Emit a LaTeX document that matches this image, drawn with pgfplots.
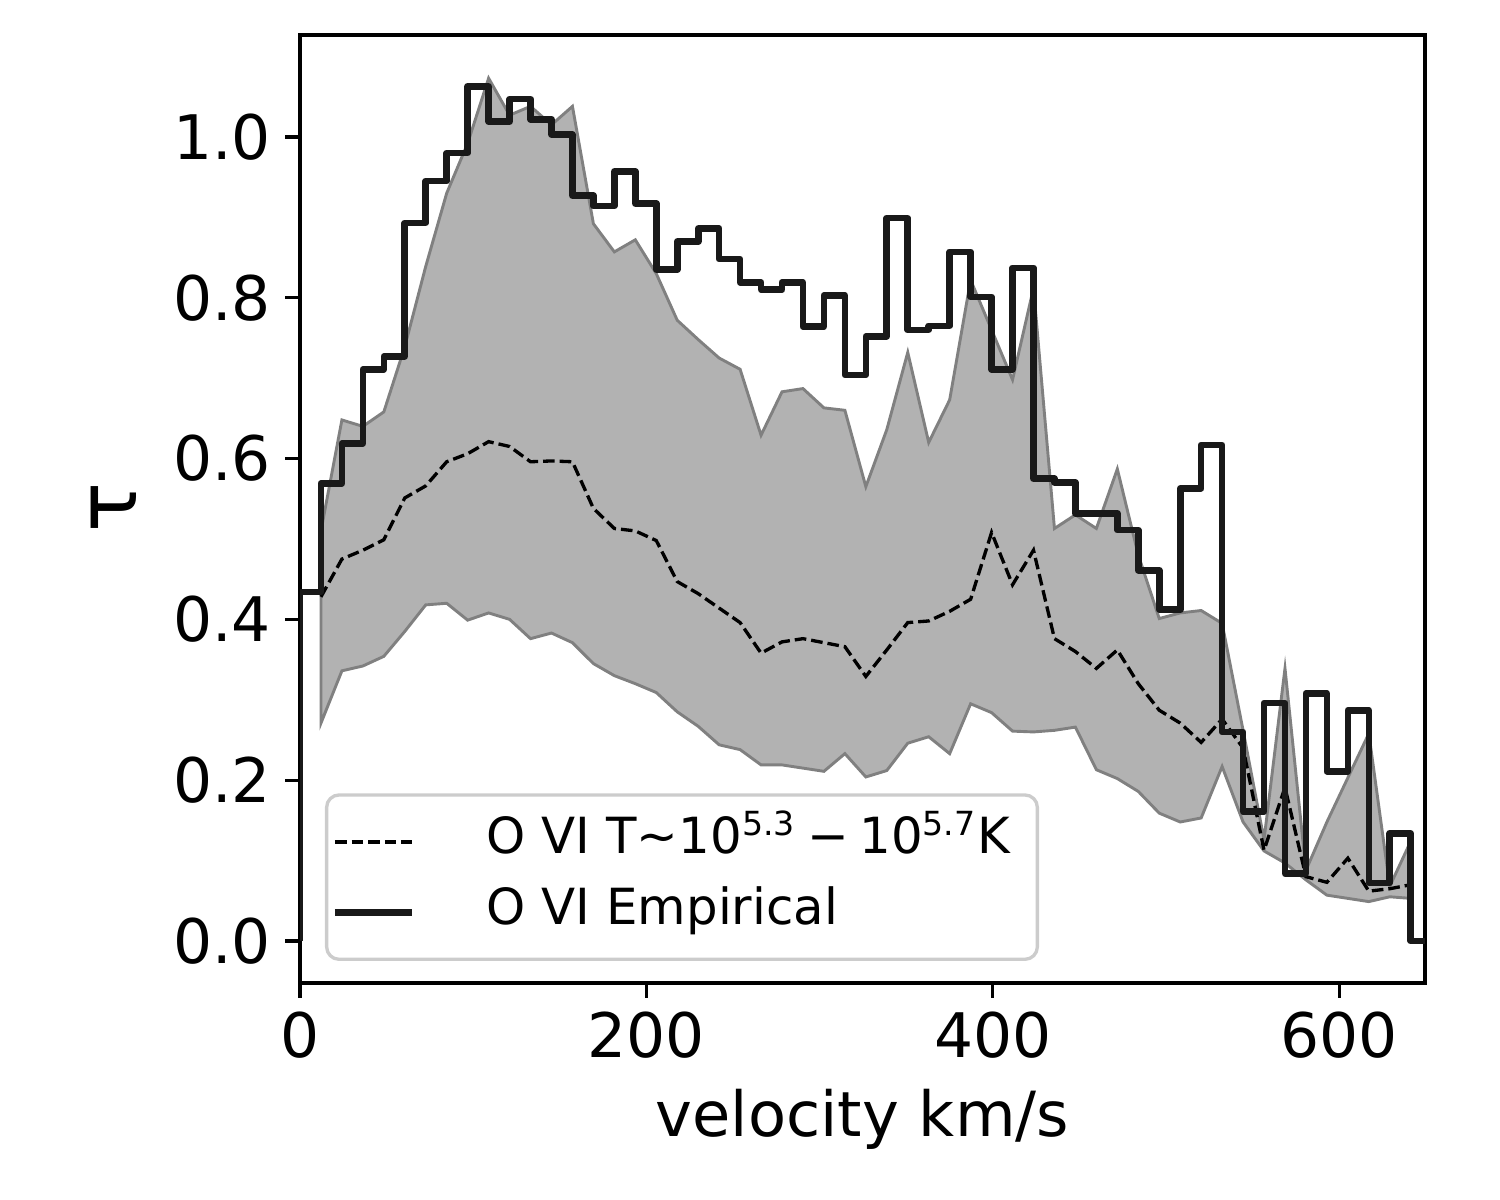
\documentclass[border=0pt]{standalone}
\usepackage{fontspec}
\setmainfont{DejaVu Sans}
\usepackage{pgfplots}
\usepackage{pgfplotstable}
\usepgfplotslibrary{fillbetween}
\pgfplotsset{compat=1.18}

\pgfplotstableread{
x y
0 0
0 0.434
12.1 0.569
24.2 0.619
36.3 0.711
48.4 0.727
60.5 0.893
72.6 0.945
84.7 0.980
96.8 1.063
108.9 1.019
121.0 1.047
133.1 1.022
145.2 1.003
157.3 0.927
169.4 0.914
181.5 0.957
193.6 0.917
205.7 0.835
217.8 0.870
229.9 0.886
242.0 0.848
254.1 0.819
266.2 0.810
278.3 0.819
290.4 0.764
302.5 0.803
314.6 0.704
326.7 0.752
338.8 0.899
350.9 0.760
363.0 0.765
375.1 0.857
387.2 0.801
399.3 0.711
411.4 0.837
423.5 0.575
435.6 0.570
447.7 0.532
459.8 0.532
471.9 0.511
484.0 0.461
496.1 0.412
508.2 0.563
520.3 0.617
532.4 0.260
544.5 0.161
556.6 0.296
568.7 0.084
580.8 0.308
592.9 0.211
605.0 0.287
617.1 0.072
629.2 0.134
641.3 0
649.5 0
}\steptable

\pgfplotstableread{
x up lo mid
12.1 0.510 0.271 0.428
24.2 0.648 0.336 0.475
36.3 0.640 0.342 0.486
48.4 0.658 0.354 0.499
60.5 0.739 0.385 0.551
72.6 0.839 0.418 0.566
84.7 0.930 0.420 0.596
96.8 0.992 0.399 0.606
108.9 1.073 0.408 0.621
121.0 1.027 0.400 0.615
133.1 1.038 0.376 0.596
145.2 1.015 0.383 0.597
157.3 1.038 0.371 0.596
169.4 0.892 0.345 0.538
181.5 0.857 0.330 0.513
193.6 0.872 0.320 0.510
205.7 0.830 0.309 0.498
217.8 0.772 0.285 0.447
229.9 0.748 0.267 0.432
242.0 0.725 0.244 0.414
254.1 0.711 0.238 0.396
266.2 0.629 0.219 0.358
278.3 0.683 0.219 0.372
290.4 0.687 0.215 0.376
302.5 0.663 0.211 0.371
314.6 0.660 0.233 0.366
326.7 0.565 0.204 0.329
338.8 0.636 0.212 0.362
350.9 0.732 0.246 0.396
363.0 0.620 0.254 0.398
375.1 0.673 0.233 0.410
387.2 0.822 0.295 0.425
399.3 0.760 0.284 0.508
411.4 0.698 0.261 0.443
423.5 0.812 0.260 0.486
435.6 0.513 0.262 0.376
447.7 0.530 0.266 0.360
459.8 0.513 0.213 0.339
471.9 0.587 0.202 0.362
484.0 0.480 0.186 0.320
496.1 0.401 0.159 0.287
508.2 0.408 0.148 0.271
520.3 0.411 0.153 0.247
532.4 0.395 0.217 0.276
544.5 0.262 0.148 0.240
556.6 0.126 0.112 0.113
568.7 0.339 0.097 0.191
580.8 0.088 0.076 0.080
592.9 0.148 0.057 0.073
605.0 0.203 0.053 0.103
617.1 0.258 0.049 0.062
629.2 0.068 0.055 0.065
641.3 0.124 0.053 0.070
}\bandtable

\begin{document}
\begin{tikzpicture}
\begin{axis}[
  scale only axis,
  width=271.0pt, height=228.4pt,
  xmin=0, xmax=649.5,
  ymin=-0.0522, ymax=1.1269,
  xtick={0,200,400,600},
  ytick={0,0.2,0.4,0.6,0.8,1.0},
  yticklabel style={/pgf/number format/fixed, /pgf/number format/fixed zerofill, /pgf/number format/precision=1},
  /pgf/number format/assume math mode=true,
  tick label style={font=\fontsize{14.8}{17}\selectfont},
  tick align=outside,
  xtick pos=bottom, ytick pos=left,
  major tick length=3.5pt,
  every tick/.style={black, line width=0.8pt},
  axis line style={black, line width=0.8pt},
  xlabel={velocity km/s},
  ylabel={τ},
  xlabel style={at={(axis description cs:0.5,-0.162)}, anchor=base, font=\fontsize{15}{18}\selectfont},
  ylabel style={at={(axis description cs:-0.1653,0.501)}, anchor=center, font=\fontsize{20}{24}\selectfont},
  legend image code/.code={\draw[#1] (0pt,0pt) -- (18.5pt,0pt);},
  legend style={
    at={(axis description cs:0.0222,0.0232)}, anchor=south west,
    draw=black!20, line width=0.8pt, rounded corners=3pt, fill=white,
    inner xsep=1.2pt, inner ysep=2.8pt,
    column sep=17.3pt,
    nodes={inner xsep=0pt, inner ysep=2.3pt, text height=9pt, text depth=3.4pt, anchor=west},
    font=\fontsize{12}{14}\selectfont,
    cells={anchor=west},
  },
]
\addplot[draw=none, name path=U, forget plot] table[x=x, y=up]{\bandtable};
\addplot[draw=none, name path=L, forget plot] table[x=x, y=lo]{\bandtable};
\addplot[fill=black!30, draw=black!50, line width=0.7pt, forget plot] fill between[of=U and L];
\addplot[black, line width=0.8pt, dash pattern=on 2.8pt off 1.2pt] table[x=x, y=mid]{\bandtable};
\addlegendentry{O VI T\textasciitilde 10\textsuperscript{5.3}\hspace{2.5pt}−\hspace{2.5pt}10\textsuperscript{5.7}K\rule{5.3pt}{0pt}}
\addplot[black!90, line width=1.6pt, const plot mark left, line join=round] table[x=x, y=y]{\steptable};
\addlegendentry{O VI Empirical}
\end{axis}
\pgfresetboundingbox
\path[use as bounding box] ([shift={(-72.27pt,-52.27pt)}]current axis.south west) rectangle ([shift={(289.08pt,236.8pt)}]current axis.south west);
\end{tikzpicture}
\end{document}
